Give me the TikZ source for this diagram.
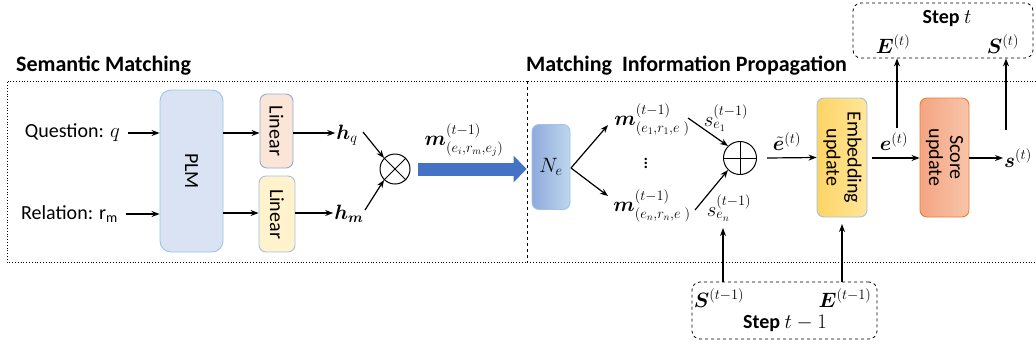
\documentclass[tikz,border=0pt]{standalone}
\usepackage{amsmath}
\usepackage{bm}
\usepackage{graphicx}
\usepackage{fontspec}
\setmainfont{Carlito}
\usetikzlibrary{arrows.meta,calc}
\definecolor{plmfill}{HTML}{DAE3F3}
\definecolor{boxborder}{HTML}{9DC3E6}
\definecolor{linfillA}{HTML}{FBE5D6}
\definecolor{linfillB}{HTML}{FFF2CC}
\definecolor{bigblue}{HTML}{4472C4}
\definecolor{neL}{HTML}{8FAADC}
\definecolor{neR}{HTML}{BDD7EE}
\definecolor{embL}{HTML}{FFD466}
\definecolor{embR}{HTML}{FFE699}
\definecolor{scL}{HTML}{F4A582}
\definecolor{scR}{HTML}{F8C4AA}
\definecolor{scB}{HTML}{ED7D31}
\tikzset{
  arr/.style={line width=1.2pt,-{Stealth[length=8pt,width=6pt]}},
  blk/.style={draw=boxborder,line width=0.9pt,rounded corners=7pt,inner sep=0pt},
  ttl/.style={font=\fontsize{22}{26}\selectfont\bfseries,anchor=base west,inner sep=0pt},
  lbl/.style={inner sep=1pt},
  stepbox/.style={draw,dashed,line width=0.8pt,rounded corners=8pt},
}
\begin{document}
\begin{tikzpicture}[x=1pt,y=-1pt,font=\fontsize{20}{24}\selectfont]
\useasboundingbox (0,0) rectangle (1036,346);
% frames
\draw[dotted,line width=0.8pt] (1036,81) -- (7,81) -- (7,262) -- (1036,262);
\draw[dashed,line width=0.8pt] (527,81) -- (527,262);
\node[ttl] (t1) at (16,71) {Semantic Matching};
\node[ttl] (t2) at (526,71) {Matching\ \ Information Propagation};
% left part
\node[lbl,anchor=east] (q) at (121,133) {Question: $q$};
\node[lbl,anchor=east] (r) at (119,214) {Relation: $\mathrm{r}_{\mathrm{m}}$};
\node[blk,fill=plmfill,rounded corners=11pt,minimum width=63pt,minimum height=162pt] (plm) at (191.5,171) {\rotatebox{-90}{PLM}};
\node[blk,draw=neL,fill=linfillA,minimum width=33pt,minimum height=74pt] (lin1) at (276.5,131) {\rotatebox{-90}{Linear}};
\node[blk,fill=linfillB,minimum width=36pt,minimum height=76pt] (lin2) at (277,214) {\rotatebox{-90}{Linear}};
\node[lbl] (hq) at (347,135) {$\bm{h}_q$};
\node[lbl] (hm) at (349,214) {$\bm{h}_{\bm{m}}$};
\node[draw,circle,line width=1pt,minimum size=30pt,inner sep=0pt] (ot) at (395,169) {};
\draw[line width=1pt] (ot.north west) -- (ot.south east) (ot.north east) -- (ot.south west);
\draw[arr] (q.east) ++(7,0) -- (plm.west |- q.east);
\draw[arr] (r.east) ++(7,0) -- (plm.west |- r.east);
\draw[arr] (plm.east |- 0,133) -- (lin1.west |- 0,133);
\draw[arr] (plm.east |- 0,213) -- (lin2.west |- 0,213);
\draw[arr] (lin1.east |- 0,133) -- (hq.west |- 0,133);
\draw[arr] (lin2.east |- 0,213) -- (hm.west |- 0,213);
\draw[arr] (363,132) -- (ot.north west);
\draw[arr] (365,210) -- (ot.south west);
% right part
\node[blk,left color=neL,right color=neR,minimum width=38pt,minimum height=85pt] (ne) at (551,167) {$N_e$};
\draw[bigblue,line width=13pt,-{Triangle[length=13pt,width=26pt]}] ($(ot.east)+(7,0)$) -- ($(ne.west)+(-5,2)$);
\node[lbl,anchor=south] (mlab) at (464,158) {$\bm{m}^{(t-1)}_{(e_i,r_m,e_j)}$};
\node[lbl] (m1) at (652,120) {$\bm{m}^{(t-1)}_{(e_1,r_1,e\;)}$};
\node[lbl] (m2) at (652,206) {$\bm{m}^{(t-1)}_{(e_n,r_n,e\;)}$};
\node[inner sep=0pt] (vd) at (646,160) {$\vdots$};
\coordinate (br) at (571,168);
\draw[arr] (br) -- (608,125);
\draw[arr] (br) -- (608,196);
\node[lbl] (s1) at (726,118) {$s^{(t-1)}_{e_1}$};
\node[lbl] (sn) at (729,208) {$s^{(t-1)}_{e_n}$};
\node[draw,circle,line width=1pt,minimum size=33pt,inner sep=0pt] (op) at (740,158) {};
\draw[line width=1pt] (op.north) -- (op.south) (op.west) -- (op.east);
\draw[arr] (688,118) -- (op.north west);
\draw[arr] (695,210) -- (op.south west);
\node[blk,left color=embL,right color=embR,minimum width=50pt,minimum height=119pt] (emb) at (842,157.5)
  {\rotatebox{-90}{\begin{tabular}{@{}c@{}}Embedding\\[-3pt]update\end{tabular}}};
\node[blk,draw=scB,left color=scL,right color=scR,minimum width=49pt,minimum height=119pt] (sc) at (944.5,157.5)
  {\rotatebox{-90}{\begin{tabular}{@{}c@{}}Score\\[-3pt]update\end{tabular}}};
\node[lbl] (st) at (1018,158) {$\bm{s}^{(t)}$};
\draw[arr] (op.east) ++(10,0) -- (emb.west);
\node[lbl,anchor=south] (et) at (787,152) {$\tilde{\bm{e}}^{(t)}$};
\draw[arr] (emb.east |- 0,158) ++(5,0) -- (sc.west |- 0,158);
\node[lbl,anchor=south] (e2) at (894,152) {$\bm{e}^{(t)}$};
\draw[arr] (sc.east |- 0,158) -- (st.west |- 0,158);
% step boxes
\node[stepbox,minimum width=180pt,minimum height=55pt] (top) at (943,30.5) {};
\node[lbl,font=\fontsize{20}{24}\selectfont\bfseries] (tst) at (947,19) {Step $t$};
\node[lbl] (Et) at (893,44) {$\bm{E}^{(t)}$};
\node[lbl] (St) at (1003,44) {$\bm{S}^{(t)}$};
\node[stepbox,minimum width=185pt,minimum height=57pt] (bot) at (784.5,310.5) {};
\node[lbl] (Sb) at (719,298) {$\bm{S}^{(t-1)}$};
\node[lbl] (Eb) at (845,298) {$\bm{E}^{(t-1)}$};
\node[lbl,font=\fontsize{20}{24}\selectfont\bfseries] (bst) at (785,323) {Step $t-1$};
\draw[arr] (897,128) -- (897,0 |- top.south);
\draw[arr] (1006,130) -- (1006,0 |- top.south);
\draw[arr] (723,0 |- bot.north) -- (723,228);
\draw[arr] (842,0 |- bot.north) -- (842,224);
\end{tikzpicture}
\end{document}
